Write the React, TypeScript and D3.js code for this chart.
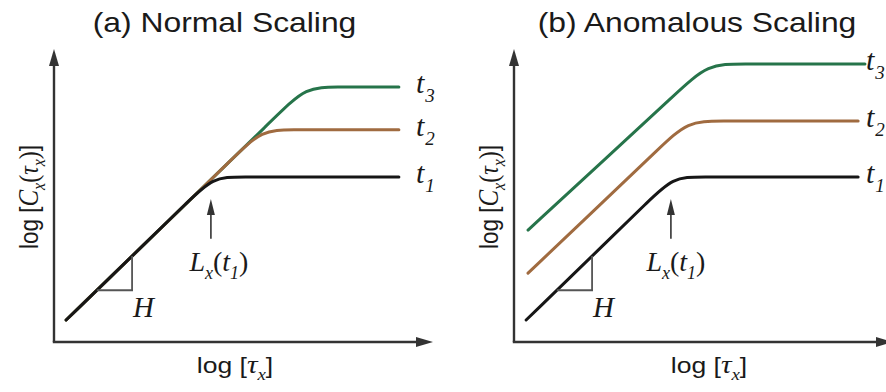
import React from "react";
import * as d3 from "d3";

// ---------- data (log tau, log C) ----------
const panelTitles = ["(a) Normal Scaling", "(b) Anomalous Scaling"];
const seriesSubs = ["1", "2", "3"];
const seriesColors = ["#161616", "#a06b40", "#26744a"];

// (a) Normal scaling
const normalX_t1 = [0.32, 2.6, 3.5, 4.2, 4.9, 6.5, 9.1];
const normalY_t1 = [0.75, 3.61, 4.74, 5.63, 5.63, 5.63, 5.63];
const normalX_t2 = [0.32, 3.0, 4.75, 5.49, 6.25, 7.5, 9.1];
const normalY_t2 = [0.75, 4.11, 6.31, 7.24, 7.24, 7.24, 7.24];
const normalX_t3 = [0.32, 3.0, 5.9, 6.65, 7.45, 8.5, 9.1];
const normalY_t3 = [0.75, 4.11, 7.75, 8.7, 8.7, 8.7, 8.7];

// (b) Anomalous scaling
const anomX_t1 = [0.32, 2.6, 3.5, 4.2, 4.9, 6.5, 9.08];
const anomY_t1 = [0.75, 3.61, 4.74, 5.63, 5.63, 5.63, 5.63];
const anomX_t2 = [0.37, 2.5, 3.85, 4.59, 5.4, 7.0, 9.08];
const anomY_t2 = [2.35, 4.97, 6.63, 7.54, 7.54, 7.54, 7.54];
const anomX_t3 = [0.37, 2.5, 4.3, 5.12, 6.0, 7.5, 9.26];
const anomY_t3 = [3.82, 6.36, 8.51, 9.49, 9.49, 9.49, 9.49];

// annotations
const slopeLegX = [1.13, 2.06]; // H triangle on the t1 line
const lengthMarkX = 4.14; // L_x(t1) arrow position
const lengthMarkY = [3.52, 4.88]; // arrow from / to

// ---------- layout ----------
const W = 886;
const H = 392;
const SANS = "'Liberation Sans', Arial, Helvetica, sans-serif";
const SERIF = "'Liberation Serif', 'Times New Roman', Times, serif";
const STRETCH = 1.18;
const AXIS = "#333";

type Panel = {
  title: string;
  xs: number[][];
  ys: number[][];
  x0: number;
  labelX: number;
  titleX: number;
  xLabelX: number;
  lLabelDx: number;
};

const panels: Panel[] = [
  {
    title: panelTitles[0],
    xs: [normalX_t1, normalX_t2, normalX_t3],
    ys: [normalY_t1, normalY_t2, normalY_t3],
    x0: 54,
    labelX: 416,
    titleX: 224.5,
    xLabelX: 235,
    lLabelDx: 8,
  },
  {
    title: panelTitles[1],
    xs: [anomX_t1, anomX_t2, anomX_t3],
    ys: [anomY_t1, anomY_t2, anomY_t3],
    x0: 514,
    labelX: 866,
    titleX: 697,
    xLabelX: 709,
    lLabelDx: 5,
  },
];

const yScale = d3.scaleLinear().domain([0, 10]).range([342, 49]);

function PanelView({ p }: { p: Panel }) {
  const x = d3.scaleLinear().domain([0, 10]).range([p.x0, p.x0 + 379]);
  const line = d3
    .line<[number, number]>()
    .x((d) => x(d[0]))
    .y((d) => yScale(d[1]))
    .curve(d3.curveBasis);

  const [ox, tipX] = x.range();
  const [oy, tipY] = yScale.range();

  const t1x = p.xs[0];
  const t1y = p.ys[0];
  const slope = (t1y[1] - t1y[0]) / (t1x[1] - t1x[0]);
  const onLine = (v: number) => t1y[0] + (v - t1x[0]) * slope;
  const ax = x(slopeLegX[0]);
  const bx = x(slopeLegX[1]);
  const ay = yScale(onLine(slopeLegX[0]));
  const by = yScale(onLine(slopeLegX[1]));

  const lx = x(lengthMarkX);
  const lBottom = yScale(lengthMarkY[0]);
  const lTip = yScale(lengthMarkY[1]);

  const order = [2, 1, 0];

  return (
    <g>
      {/* title */}
      <g transform={`translate(${p.titleX},32) scale(${STRETCH},1)`}>
        <text textAnchor="middle" fontFamily={SANS} fontSize={27} fill="#1a1a1a">
          {p.title}
        </text>
      </g>

      {/* axes */}
      <line x1={ox} y1={oy} x2={ox} y2={tipY + 14} stroke={AXIS} strokeWidth={2.4} />
      <polygon
        points={`${ox},${tipY} ${ox - 5},${tipY + 17} ${ox + 5},${tipY + 17}`}
        fill={AXIS}
      />
      <line x1={ox - 1.2} y1={oy} x2={tipX - 14} y2={oy} stroke={AXIS} strokeWidth={2.4} />
      <polygon
        points={`${tipX},${oy} ${tipX - 17},${oy - 5} ${tipX - 17},${oy + 5}`}
        fill={AXIS}
      />

      {/* curves */}
      {order.map((i) => (
        <path
          key={i}
          d={line(p.xs[i].map((v, k) => [v, p.ys[i][k]] as [number, number])) || ""}
          fill="none"
          stroke={seriesColors[i]}
          strokeWidth={3}
          strokeLinecap="round"
        />
      ))}

      {/* series labels */}
      {[0, 1, 2].map((i) => {
        const yy = yScale(p.ys[i][p.ys[i].length - 1]) + 6;
        return (
          <text
            key={i}
            x={p.labelX}
            y={yy}
            fontFamily={SERIF}
            fontStyle="italic"
            fontSize={30}
            fill="#1a1a1a"
          >
            t
            <tspan fontSize={19} dy={9} dx={1}>
              {seriesSubs[i]}
            </tspan>
          </text>
        );
      })}

      {/* slope triangle */}
      <path
        d={`M${ax},${ay} H${bx} V${by}`}
        fill="none"
        stroke="#555"
        strokeWidth={1.8}
      />
      <text
        x={bx + 1}
        y={317}
        fontFamily={SERIF}
        fontStyle="italic"
        fontSize={29}
        fill="#1a1a1a"
      >
        H
      </text>

      {/* L_x(t1) arrow */}
      <line x1={lx} y1={lBottom} x2={lx} y2={lTip + 12} stroke={AXIS} strokeWidth={1.6} />
      <polygon
        points={`${lx},${lTip} ${lx - 4},${lTip + 16} ${lx + 4},${lTip + 16}`}
        fill={AXIS}
      />
      <text
        x={lx + p.lLabelDx}
        y={271}
        textAnchor="middle"
        fontFamily={SERIF}
        fontSize={28}
        fill="#1a1a1a"
      >
        <tspan fontStyle="italic">L</tspan>
        <tspan fontStyle="italic" fontSize={18} dy={8}>x</tspan>
        <tspan dy={-8}>(</tspan>
        <tspan fontStyle="italic">t</tspan>
        <tspan fontStyle="italic" fontSize={18} dy={8}>1</tspan>
        <tspan dy={-8}>)</tspan>
      </text>

      {/* x label */}
      <g transform={`translate(${p.xLabelX},373) scale(${STRETCH},1)`}>
        <text textAnchor="middle" fontSize={22.5} fill="#1a1a1a">
          <tspan fontFamily={SANS}>log [</tspan>
          <tspan fontFamily={SERIF} fontStyle="italic" fontSize={25}>τ</tspan>
          <tspan fontFamily={SERIF} fontStyle="italic" fontSize={16} dy={7}>x</tspan>
          <tspan fontFamily={SANS} dy={-7}>]</tspan>
        </text>
      </g>

      {/* y label */}
      <g transform={`translate(${ox - 16},197) scale(${STRETCH},1) rotate(-90)`}>
        <text textAnchor="middle" fontSize={22.5} fill="#1a1a1a">
          <tspan fontFamily={SANS}>log [</tspan>
          <tspan fontFamily={SERIF} fontStyle="italic" fontSize={25}>C</tspan>
          <tspan fontFamily={SERIF} fontStyle="italic" fontSize={16} dy={6}>x</tspan>
          <tspan fontFamily={SERIF} fontSize={24} dy={-6}>(</tspan>
          <tspan fontFamily={SERIF} fontStyle="italic" fontSize={24}>τ</tspan>
          <tspan fontFamily={SERIF} fontStyle="italic" fontSize={16} dy={6}>x</tspan>
          <tspan fontFamily={SERIF} fontSize={24} dy={-6}>)</tspan>
          <tspan fontFamily={SANS}>]</tspan>
        </text>
      </g>
    </g>
  );
}

export default function App() {
  return (
    <svg
      width={W}
      height={H}
      viewBox={`0 0 ${W} ${H}`}
      style={{ position: "absolute", left: 0, top: 0, background: "#fff" }}
    >
      <rect width={W} height={H} fill="#fff" />
      {panels.map((p, i) => (
        <PanelView key={i} p={p} />
      ))}
    </svg>
  );
}
